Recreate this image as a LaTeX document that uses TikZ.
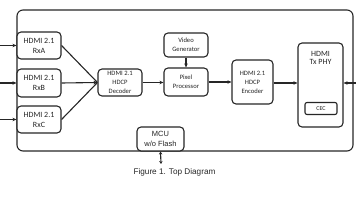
\documentclass[tikz,border=0pt]{standalone}
\usepackage{fontspec}
\setmainfont{Carlito}
\newfontfamily\capfont{Liberation Sans}
\usetikzlibrary{positioning, arrows.meta}
\definecolor{ink}{HTML}{262626}

\begin{document}
\begin{tikzpicture}[
  x=1pt, y=-1pt,
  box/.style={rectangle, draw=ink, line width=1.1pt, rounded corners=4pt,
              minimum width=44pt, minimum height=27pt, inner sep=1pt,
              align=center, fill=white, text=ink, font=\fontsize{8}{10}\selectfont},
  sbox/.style={box, font=\fontsize{6.6}{9}\selectfont},
  arr/.style={-{Stealth[length=4pt,width=3.5pt]}, line width=1.1pt, draw=ink},
  darr/.style={{Stealth[length=3pt,width=3.5pt]}-{Stealth[length=3pt,width=3.5pt]}, line width=1.1pt, draw=ink}
]
\useasboundingbox (0,0) rectangle (356,200);

% outer frame
\draw[ink, line width=1.1pt, rounded corners=6pt] (17,10) rectangle (353,151);

% receivers
\node[box] (rxa) at (39,45.5) {HDMI 2.1\\RxA};
\node[box, minimum height=28pt] (rxb) at (39,83) {HDMI 2.1\\RxB};
\node[box] (rxc) at (39,119.5) {HDMI 2.1\\RxC};

% processing chain
\node[sbox] (dec) at (120,82.5) {HDMI 2.1\\HDCP\\Decoder};
\node[sbox, minimum height=24pt] (vgen) at (186,45) {Video\\Generator};
\node[sbox, minimum height=28pt] (pix) at (186,82) {Pixel\\Processor};
\node[sbox, minimum width=41pt, minimum height=44pt] (enc) at (252.5,82) {HDMI 2.1\\HDCP\\Encoder};

% transmitter
\node[box, minimum width=45pt, minimum height=84pt] (phy) at (320.5,85) {};
\node[font=\fontsize{8}{8.5}\selectfont, text=ink, align=center, below=5pt of phy.north] (phytxt) {HDMI\\Tx PHY};
\node[box, minimum width=32pt, minimum height=12pt, rounded corners=2pt,
      font=\fontsize{6}{6}\selectfont] (cec) at (321,108.5) {CEC};

% controller
\node[box, minimum width=47pt, minimum height=24pt,
      font=\capfont\fontsize{7.5}{10}\selectfont] (mcu) at (160.5,139) {MCU\\w/o Flash};

% caption
\node[font=\capfont\fontsize{8.2}{10}\selectfont, text=ink] (caption) at (174.5,172) {Figure 1. Top Diagram};

% free ends
\coordinate (inA) at (0,45.5);
\coordinate (inB) at (0,83);
\coordinate (inC) at (0,119.5);
\coordinate (inTx) at (356,83);
\coordinate (mcuio) at (161,164);

\draw[arr] (inA) -- (rxa);
\draw[arr] (inB) -- (rxb);
\draw[arr] (inC) -- (rxc);
\draw[ink, line width=1.1pt] (rxa.east) -- (dec.west);
\draw[ink, line width=1.1pt] (rxc.east) -- (dec.west);
\draw[arr] (rxb.east) -- (dec.west);
\draw[arr] (dec) -- (dec -| pix.west);
\draw[arr] (vgen) -- (pix);
\draw[arr] (pix) -- (pix -| enc.west);
\draw[arr] (enc.east |- inTx) -- (phy.west |- inTx);
\draw[arr] (inTx) -- (phy.east |- inTx);
\draw[darr] (mcu.south) -- (mcuio);
\end{tikzpicture}
\end{document}
